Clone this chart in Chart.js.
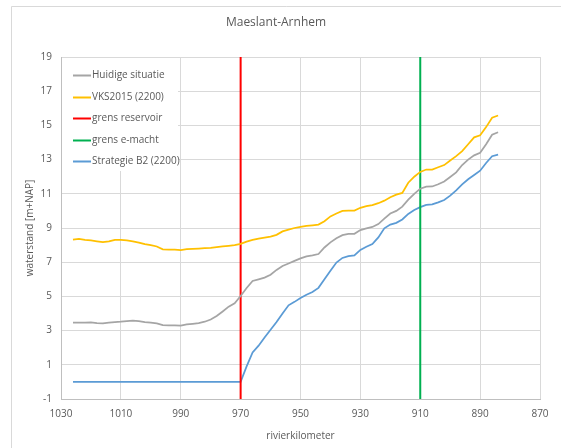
<!DOCTYPE html>
<html>
<head>
<meta charset="utf-8">
<script src="https://cdn.jsdelivr.net/npm/chart.js@4/dist/chart.umd.min.js"></script>
<style>
  html, body { margin: 0; padding: 0; background: #ffffff; }
  #wrap { width: 561px; height: 448px; }
</style>
</head>
<body>
<div id="wrap"><canvas id="c" width="561" height="448"></canvas></div>
<script>
// River kilometres along the Maeslant–Arnhem stretch
const km = [
  1026, 1024, 1022, 1020, 1018, 1016, 1014, 1012, 1010, 1008,
  1006, 1004, 1002, 1000, 998, 996, 994, 992, 990, 988,
  986, 984, 982, 980, 978, 976, 974, 972, 970, 968,
  966, 964, 962, 960, 958, 956, 954, 952, 950, 948,
  946, 944, 942, 940, 938, 936, 934, 932, 930, 928,
  926, 924, 922, 920, 918, 916, 914, 912, 910, 908,
  906, 904, 902, 900, 898, 896, 894, 892, 890, 888,
  886, 884
];

// Water levels [m+NAP]
const huidigeSituatie = [
  3.46, 3.47, 3.46, 3.48, 3.44, 3.42, 3.46, 3.50, 3.52, 3.55,
  3.58, 3.55, 3.50, 3.46, 3.42, 3.32, 3.31, 3.30, 3.29, 3.36,
  3.40, 3.44, 3.52, 3.65, 3.85, 4.12, 4.40, 4.60, 5.02, 5.49,
  5.90, 6.00, 6.10, 6.27, 6.55, 6.78, 6.92, 7.08, 7.22, 7.34,
  7.40, 7.48, 7.86, 8.16, 8.40, 8.58, 8.65, 8.66, 8.88, 8.98,
  9.06, 9.23, 9.55, 9.85, 10.00, 10.25, 10.66, 11.00, 11.30, 11.42,
  11.43, 11.56, 11.72, 11.98, 12.25, 12.68, 13.00, 13.25, 13.40, 13.90,
  14.45, 14.60
];

const vks2015 = [
  8.32, 8.37, 8.30, 8.27, 8.22, 8.17, 8.22, 8.30, 8.30, 8.27,
  8.22, 8.15, 8.06, 8.00, 7.92, 7.75, 7.74, 7.74, 7.71, 7.76,
  7.78, 7.80, 7.82, 7.84, 7.88, 7.92, 7.96, 8.00, 8.07, 8.20,
  8.30, 8.38, 8.44, 8.50, 8.60, 8.80, 8.90, 9.00, 9.06, 9.12,
  9.16, 9.20, 9.40, 9.68, 9.85, 10.00, 10.02, 10.02, 10.18, 10.28,
  10.34, 10.45, 10.60, 10.80, 10.95, 11.05, 11.65, 12.00, 12.28, 12.42,
  12.42, 12.55, 12.68, 12.95, 13.20, 13.50, 13.90, 14.30, 14.42, 14.90,
  15.45, 15.58
];

const strategieB2 = [
  0, 0, 0, 0, 0, 0, 0, 0, 0, 0,
  0, 0, 0, 0, 0, 0, 0, 0, 0, 0,
  0, 0, 0, 0, 0, 0, 0, 0, 0, 0.91,
  1.72, 2.12, 2.60, 3.05, 3.50, 4.00, 4.48, 4.68, 4.90, 5.10,
  5.26, 5.50, 6.00, 6.50, 6.98, 7.25, 7.36, 7.40, 7.72, 7.90,
  8.06, 8.45, 8.98, 9.20, 9.30, 9.50, 9.82, 10.05, 10.22, 10.35,
  10.38, 10.50, 10.64, 10.89, 11.20, 11.55, 11.85, 12.10, 12.35, 12.80,
  13.20, 13.29
];

// Boundary positions (river km)
const grensReservoirKm = 970;
const grensEmachtKm = 910;

// Axis ranges and ticks
const xMin = 870, xMax = 1030, xStep = 20;
const yMin = -1, yMax = 19, yStep = 2;

const pairs = (xs, ys) => xs.map((x, i) => ({ x: x, y: ys[i] }));
const vertical = (x) => [{ x: x, y: yMin }, { x: x, y: yMax }];

const TEXT = '#595959';
const GRID = '#d9d9d9';
Chart.defaults.font.family = "'Open Sans', sans-serif";
Chart.defaults.font.size = 10;
Chart.defaults.color = TEXT;

// Frame around the whole chart
const frame = {
  id: 'frame',
  beforeDraw(chart) {
    const ctx = chart.ctx;
    ctx.save();
    ctx.fillStyle = '#ffffff';
    ctx.fillRect(0, 0, chart.width, chart.height);
    ctx.strokeStyle = GRID;
    ctx.lineWidth = 1;
    ctx.beginPath();
    ctx.moveTo(11.5, chart.height);
    ctx.lineTo(11.5, 6.5);
    ctx.lineTo(chart.width, 6.5);
    ctx.stroke();
    ctx.restore();
  }
};

// Legend box inside the top-left of the plot area
const innerLegend = {
  id: 'innerLegend',
  afterDatasetsDraw(chart) {
    const ctx = chart.ctx;
    const area = chart.chartArea;
    const x0 = area.left + 1, y0 = area.top + 1;
    ctx.save();
    ctx.fillStyle = '#ffffff';
    ctx.fillRect(x0, y0, 116, 113);
    ctx.font = "10px 'Open Sans', sans-serif";
    ctx.textBaseline = 'middle';
    ctx.textAlign = 'left';
    chart.data.datasets.forEach((ds, i) => {
      const y = Math.round(area.top + 18 + i * 21.5) + 0.5;
      ctx.strokeStyle = ds.borderColor;
      ctx.lineWidth = 2;
      ctx.beginPath();
      ctx.moveTo(area.left + 12, y);
      ctx.lineTo(area.left + 30, y);
      ctx.stroke();
      ctx.fillStyle = TEXT;
      ctx.fillText(ds.label, area.left + 31, y);
    });
    ctx.restore();
  }
};

const lineStyle = { pointRadius: 0, pointHoverRadius: 0, tension: 0, fill: false };
const plain = (v) => String(v);

new Chart(document.getElementById('c'), {
  type: 'line',
  data: {
    datasets: [
      Object.assign({ label: 'Huidige situatie', data: pairs(km, huidigeSituatie),
        borderColor: '#a5a5a5', borderWidth: 1.75 }, lineStyle),
      Object.assign({ label: 'VKS2015 (2200)', data: pairs(km, vks2015),
        borderColor: '#ffc000', borderWidth: 1.75 }, lineStyle),
      Object.assign({ label: 'grens reservoir', data: vertical(grensReservoirKm),
        borderColor: '#ff0000', borderWidth: 2 }, lineStyle),
      Object.assign({ label: 'grens e-macht', data: vertical(grensEmachtKm),
        borderColor: '#00b050', borderWidth: 2 }, lineStyle),
      Object.assign({ label: 'Strategie B2 (2200)', data: pairs(km, strategieB2),
        borderColor: '#5b9bd5', borderWidth: 1.75 }, lineStyle)
    ]
  },
  options: {
    responsive: false,
    animation: false,
    events: [],
    layout: { padding: { left: 12, right: 21, top: 0, bottom: 0 } },
    plugins: {
      legend: { display: false },
      tooltip: { enabled: false },
      title: {
        display: true,
        text: 'Maeslant-Arnhem',
        color: TEXT,
        font: { size: 12, weight: 'normal' },
        padding: { top: 15, bottom: 27.6 }
      }
    },
    scales: {
      x: {
        type: 'linear',
        reverse: true,
        min: xMin, max: xMax,
        ticks: { stepSize: xStep, padding: 9, color: TEXT, maxRotation: 0, callback: plain },
        grid: { color: GRID, drawTicks: false, lineWidth: 1 },
        border: { color: '#bfbfbf' },
        title: { display: true, text: 'rivierkilometer', color: TEXT, padding: { top: 0, bottom: 6 } },
        afterFit(scale) { scale.height = 49; }
      },
      y: {
        min: yMin, max: yMax,
        ticks: { stepSize: yStep, padding: 9, color: TEXT, callback: plain },
        grid: { color: GRID, drawTicks: false, lineWidth: 1 },
        border: { color: '#bfbfbf' },
        title: { display: true, text: 'waterstand [m+NAP]', color: TEXT, padding: { top: 12, bottom: 0 } },
        afterFit(scale) { scale.width = 49; }
      }
    }
  },
  plugins: [frame, innerLegend]
});
</script>
</body>
</html>
